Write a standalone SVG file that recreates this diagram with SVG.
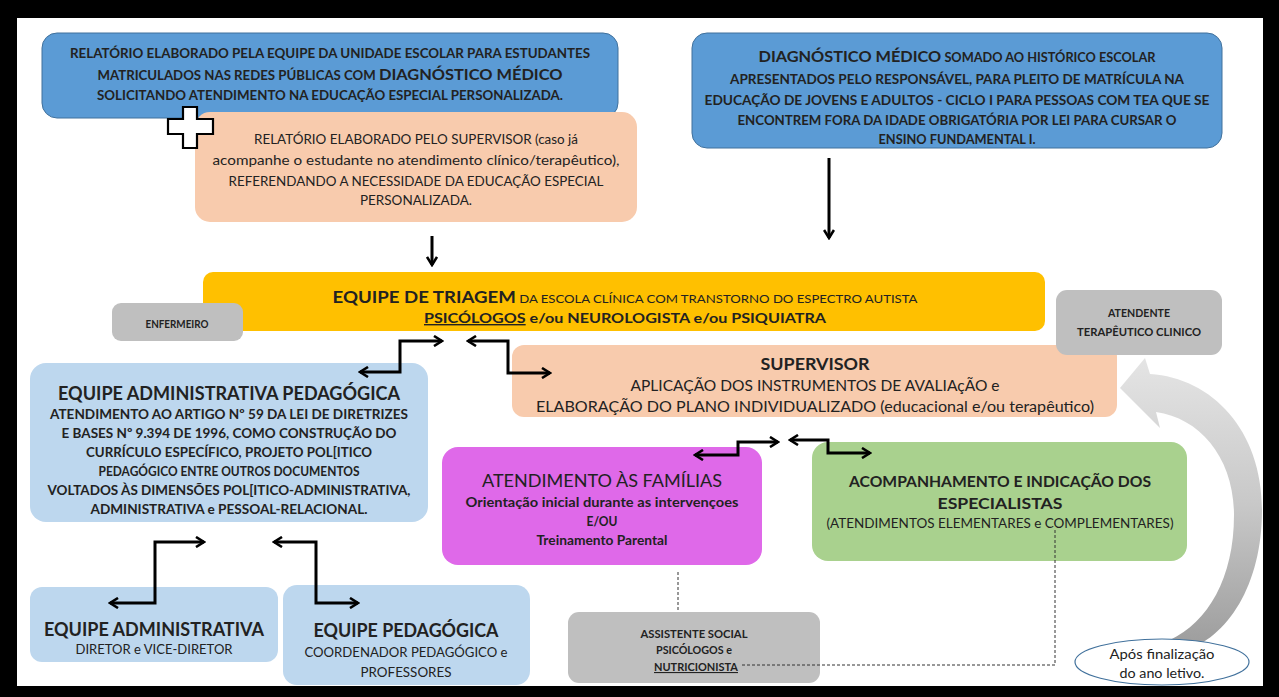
<svg xmlns="http://www.w3.org/2000/svg" width="1279" height="697" viewBox="0 0 1279 697">
<style>
.t{font-family:Lato,"Open Sans","Liberation Sans",sans-serif;fill:#222;text-anchor:middle}
.b{font-weight:bold}
.r{font-weight:normal}
.blue{fill:#5b9bd5;stroke:#41719c;stroke-width:1}
.peach{fill:#f8cbad}
.yellow{fill:#ffc000}
.gray{fill:#bfbfbf}
.lblue{fill:#bdd7ee}
.mag{fill:#df69e9}
.green{fill:#a9d18e}
.conn{fill:none;stroke:#000;stroke-width:3}
.dash{fill:none;stroke:#333;stroke-width:1;stroke-dasharray:3 2}
</style>
<defs>
<marker id="ah" viewBox="0 0 12 12" refX="10" refY="6" markerWidth="12" markerHeight="12" markerUnits="userSpaceOnUse" orient="auto-start-reverse">
<path d="M2 1 L10 6 L2 11" fill="none" stroke="#000" stroke-width="2.6"/>
</marker>
<linearGradient id="cg" gradientUnits="userSpaceOnUse" x1="0" y1="360" x2="0" y2="650">
<stop offset="0" stop-color="#e4e4e4"/>
<stop offset="0.5" stop-color="#c8c8c8"/>
<stop offset="1" stop-color="#9c9c9c"/>
</linearGradient>
</defs>
<rect x="0" y="0" width="1279" height="697" fill="#000"/>
<rect x="17" y="18" width="1246" height="668" fill="#fff"/>

<g id="relatorio-escola">
<rect class="blue" x="42" y="33" width="576" height="85" rx="15"/>
<text class="t b" x="330" y="58" font-size="12.5" textLength="520" lengthAdjust="spacingAndGlyphs">RELATÓRIO ELABORADO PELA EQUIPE DA UNIDADE ESCOLAR PARA ESTUDANTES</text>
<text class="t b" x="330" y="80" font-size="12.5" textLength="465" lengthAdjust="spacingAndGlyphs">MATRICULADOS NAS REDES PÚBLICAS COM <tspan font-size="15.5">DIAGNÓSTICO MÉDICO</tspan></text>
<text class="t b" x="330" y="99.5" font-size="12.5" textLength="466" lengthAdjust="spacingAndGlyphs">SOLICITANDO ATENDIMENTO NA EDUCAÇÃO ESPECIAL PERSONALIZADA.</text>
</g>

<g id="relatorio-supervisor">
<rect class="peach" x="195" y="112" width="442" height="110" rx="15"/>
<text class="t r" x="416" y="144" font-size="13.5" textLength="324" lengthAdjust="spacingAndGlyphs">RELATÓRIO ELABORADO PELO SUPERVISOR (caso já</text>
<text class="t r" x="416" y="165" font-size="13.5" textLength="407" lengthAdjust="spacingAndGlyphs">acompanhe o estudante no atendimento clínico/terapêutico),</text>
<text class="t r" x="416" y="186" font-size="13.5" textLength="375" lengthAdjust="spacingAndGlyphs">REFERENDANDO A NECESSIDADE DA EDUCAÇÃO ESPECIAL</text>
<text class="t r" x="416" y="205" font-size="13.5" textLength="112" lengthAdjust="spacingAndGlyphs">PERSONALIZADA.</text>
</g>

<g id="mais">
<path d="M183 107 H197 V119 H213 V134 H197 V148 H183 V134 H168 V119 H183 Z" fill="#fff" stroke="#000" stroke-width="2.2"/>
</g>

<g id="diagnostico-eja">
<rect class="blue" x="692" y="33" width="530" height="115" rx="15"/>
<text class="t b" x="957" y="62" font-size="12.5" textLength="397" lengthAdjust="spacingAndGlyphs"><tspan font-size="16">DIAGNÓSTICO MÉDICO</tspan> SOMADO AO HISTÓRICO ESCOLAR</text>
<text class="t b" x="957" y="83.5" font-size="12.5" textLength="454" lengthAdjust="spacingAndGlyphs">APRESENTADOS PELO RESPONSÁVEL, PARA PLEITO DE MATRÍCULA NA</text>
<text class="t b" x="957" y="104.5" font-size="12.5" textLength="505" lengthAdjust="spacingAndGlyphs">EDUCAÇÃO DE JOVENS E ADULTOS - CICLO I  PARA PESSOAS COM TEA QUE SE</text>
<text class="t b" x="957" y="124.5" font-size="12.5" textLength="439" lengthAdjust="spacingAndGlyphs">ENCONTREM FORA DA IDADE OBRIGATÓRIA POR LEI PARA CURSAR O</text>
<text class="t b" x="957" y="144" font-size="12.5" textLength="157" lengthAdjust="spacingAndGlyphs">ENSINO FUNDAMENTAL I.</text>
</g>

<g id="triagem">
<rect class="yellow" x="203" y="272" width="842" height="59" rx="10"/>
<text class="t r" x="625" y="302.5" font-size="12" textLength="585" lengthAdjust="spacingAndGlyphs"><tspan font-size="17" font-weight="bold">EQUIPE DE TRIAGEM</tspan> DA ESCOLA CLÍNICA COM TRANSTORNO DO ESPECTRO AUTISTA</text>
<text class="t b" x="625" y="323" font-size="14" textLength="402" lengthAdjust="spacingAndGlyphs"><tspan text-decoration="underline">PSICÓLOGOS</tspan> e/ou NEUROLOGISTA  e/ou PSIQUIATRA</text>
</g>

<g id="enfermeiro">
<rect class="gray" x="112" y="303" width="131" height="38" rx="9"/>
<text class="t b" x="177" y="328" font-size="11" textLength="63" lengthAdjust="spacingAndGlyphs">ENFERMEIRO</text>
</g>

<g id="supervisor">
<rect class="peach" x="512" y="345" width="605" height="72" rx="12"/>
<text class="t b" x="815" y="370" font-size="17" textLength="109" lengthAdjust="spacingAndGlyphs">SUPERVISOR</text>
<text class="t r" x="815" y="391" font-size="14.5" textLength="369" lengthAdjust="spacingAndGlyphs">APLICAÇÃO DOS INSTRUMENTOS DE AVALIAçÃO e</text>
<text class="t r" x="815" y="412" font-size="14.5" textLength="558" lengthAdjust="spacingAndGlyphs">ELABORAÇÃO DO PLANO INDIVIDUALIZADO (educacional e/ou terapêutico)</text>
</g>

<g id="atendente">
<rect class="gray" x="1056" y="290" width="166" height="65" rx="11"/>
<text class="t b" x="1139" y="317" font-size="11" textLength="62" lengthAdjust="spacingAndGlyphs">ATENDENTE</text>
<text class="t b" x="1139" y="336" font-size="11" textLength="124" lengthAdjust="spacingAndGlyphs">TERAPÊUTICO CLINICO</text>
</g>

<g id="adm-pedagogica">
<rect class="lblue" x="30" y="363" width="398" height="159" rx="16"/>
<text class="t b" x="229" y="400" font-size="19" textLength="342" lengthAdjust="spacingAndGlyphs">EQUIPE ADMINISTRATIVA PEDAGÓGICA</text>
<text class="t b" x="229" y="418.5" font-size="13" textLength="358" lengthAdjust="spacingAndGlyphs">ATENDIMENTO AO ARTIGO Nº 59 DA LEI DE DIRETRIZES</text>
<text class="t b" x="229" y="438" font-size="13" textLength="335" lengthAdjust="spacingAndGlyphs">E BASES Nº 9.394 DE 1996, COMO CONSTRUÇÃO DO</text>
<text class="t b" x="229" y="457" font-size="13" textLength="286" lengthAdjust="spacingAndGlyphs">CURRÍCULO ESPECÍFICO, PROJETO POL[ITICO</text>
<text class="t b" x="229" y="476" font-size="13" textLength="261" lengthAdjust="spacingAndGlyphs">PEDAGÓGICO ENTRE OUTROS DOCUMENTOS</text>
<text class="t b" x="229" y="495" font-size="13" textLength="363" lengthAdjust="spacingAndGlyphs">VOLTADOS ÀS DIMENSÕES POL[ITICO-ADMINISTRATIVA,</text>
<text class="t b" x="229" y="514" font-size="13" textLength="277" lengthAdjust="spacingAndGlyphs">ADMINISTRATIVA e PESSOAL-RELACIONAL.</text>
</g>

<g id="equipe-administrativa">
<rect class="lblue" x="30" y="587" width="248" height="75" rx="12"/>
<text class="t b" x="154" y="636" font-size="18" textLength="220" lengthAdjust="spacingAndGlyphs">EQUIPE ADMINISTRATIVA</text>
<text class="t r" x="154" y="653.5" font-size="12.5" textLength="157" lengthAdjust="spacingAndGlyphs">DIRETOR e VICE-DIRETOR</text>
</g>

<g id="equipe-pedagogica">
<rect class="lblue" x="283" y="585" width="247" height="100" rx="14"/>
<text class="t b" x="406" y="637" font-size="18" textLength="185" lengthAdjust="spacingAndGlyphs">EQUIPE PEDAGÓGICA</text>
<text class="t r" x="406" y="656.5" font-size="12.5" textLength="203" lengthAdjust="spacingAndGlyphs">COORDENADOR PEDAGÓGICO e</text>
<text class="t r" x="406" y="676.5" font-size="12.5" textLength="91" lengthAdjust="spacingAndGlyphs">PROFESSORES</text>
</g>

<g id="familias">
<rect class="mag" x="442" y="447" width="320" height="118" rx="16"/>
<text class="t r" x="602" y="486.5" font-size="18" font-weight="600" textLength="240" lengthAdjust="spacingAndGlyphs">ATENDIMENTO ÀS FAMÍLIAS</text>
<text class="t b" x="602" y="506.5" font-size="13" textLength="273" lengthAdjust="spacingAndGlyphs">Orientação inicial durante as intervençoes</text>
<text class="t b" x="602" y="525.5" font-size="13" textLength="31" lengthAdjust="spacingAndGlyphs">E/OU</text>
<text class="t b" x="602" y="544.5" font-size="13" textLength="131" lengthAdjust="spacingAndGlyphs">Treinamento Parental</text>
</g>

<g id="especialistas">
<rect class="green" x="812" y="442" width="375" height="119" rx="16"/>
<text class="t b" x="1000" y="487" font-size="16" textLength="302" lengthAdjust="spacingAndGlyphs">ACOMPANHAMENTO E INDICAÇÃO DOS</text>
<text class="t b" x="1000" y="509" font-size="16" textLength="125" lengthAdjust="spacingAndGlyphs">ESPECIALISTAS</text>
<text class="t r" x="1000" y="528" font-size="13.5" textLength="347" lengthAdjust="spacingAndGlyphs">(ATENDIMENTOS ELEMENTARES e COMPLEMENTARES)</text>
</g>

<g id="assistente">
<rect class="gray" x="568" y="612" width="252" height="71" rx="11"/>
<text class="t b" x="694" y="638" font-size="11" textLength="107" lengthAdjust="spacingAndGlyphs">ASSISTENTE SOCIAL</text>
<text class="t b" x="694" y="654" font-size="11" textLength="76" lengthAdjust="spacingAndGlyphs">PSICÓLOGOS e</text>
<text class="t b" x="696" y="671" font-size="11" textLength="84" lengthAdjust="spacingAndGlyphs" text-decoration="underline">NUTRICIONISTA</text>
</g>

<g id="ciclo">
<path d="M1120 388 L1145 358 L1150 374 C1212 378 1262 430 1262 510 C1262 585 1228 638 1182 652 L1170 640 C1208 622 1234 578 1234 515 C1234 458 1200 418 1156 412 L1160 428 Z" fill="url(#cg)"/>
</g>

<g id="apos">
<ellipse cx="1162" cy="662" rx="87" ry="23" fill="#fff" stroke="#41719c" stroke-width="1.2"/>
<text class="t r" x="1162" y="659" font-size="13" textLength="105" lengthAdjust="spacingAndGlyphs">Após finalização</text>
<text class="t r" x="1162" y="678" font-size="13" textLength="85" lengthAdjust="spacingAndGlyphs">do ano letivo.</text>
</g>

<g id="connectors">
<path class="conn" d="M829 158 V238" marker-end="url(#ah)"/>
<path class="conn" d="M432 236 V265" marker-end="url(#ah)"/>
<path class="conn" d="M360 372 H400 V341 H442" marker-start="url(#ah)" marker-end="url(#ah)"/>
<path class="conn" d="M468 341 H508 V373 H550" marker-start="url(#ah)" marker-end="url(#ah)"/>
<path class="conn" d="M110 603 H155 V542 H204" marker-start="url(#ah)" marker-end="url(#ah)"/>
<path class="conn" d="M274 542 H316 V603 H358" marker-start="url(#ah)" marker-end="url(#ah)"/>
<path class="conn" d="M695 455 H738 V442 H778" marker-start="url(#ah)" marker-end="url(#ah)"/>
<path class="conn" d="M790 440 H828 V453 H870" marker-start="url(#ah)" marker-end="url(#ah)"/>
<path class="dash" d="M678 572 V611"/>
<path class="dash" d="M1055 530 V665 H742"/>
</g>
</svg>
